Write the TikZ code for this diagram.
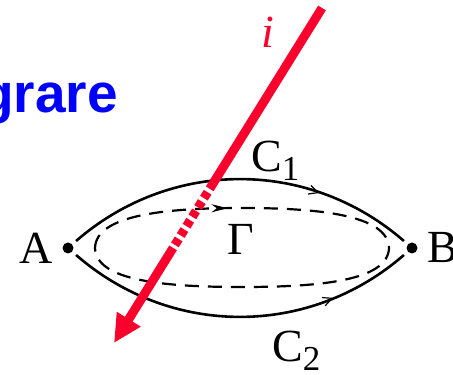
\documentclass[tikz,border=0pt]{standalone}
\usepackage{fontspec}
\setmainfont{Liberation Serif}
\newfontfamily\headfont{Liberation Sans}
\usetikzlibrary{positioning,arrows.meta,calc,decorations.markings}
\definecolor{Wire}{RGB}{250,0,45}
\definecolor{Title}{RGB}{0,0,255}
\newcommand{\lblsize}{\fontsize{46}{46}\selectfont}
\newcommand{\lowidx}[1]{\raisebox{-8.5pt}{\fontsize{35}{35}\selectfont #1}}

\begin{document}
\begin{tikzpicture}[x=1pt,y=1pt,
  dot/.style={circle,fill,inner sep=0pt,minimum size=11pt},
  letter/.style={inner sep=0pt,font=\lblsize},
  curve/.style={line width=2.6pt,shorten <=5pt,shorten >=5pt},
  loop/.style={line width=2.2pt,dash pattern=on 14pt off 9pt},
  wire/.style={Wire,line width=9pt},
  barb/.style={postaction={decorate},decoration={markings,mark=at position #1 with {\arrow{Straight Barb[length=9pt,width=9pt,line width=1.2pt]}}}}]
\useasboundingbox (0,0) rectangle (453,375);
% title, cut at the left edge
\node[anchor=base east,inner sep=0pt,text=Title,font=\fontsize{55}{55}\selectfont\headfont\bfseries] (title) at (118,262) {grare};
% end points
\node[dot] (A) at (68,127) {};
\node[dot] (B) at (412,127) {};
\node[letter,left=9pt of A] (labA) {A};
\node[letter,right=10pt of B] (labB) {B};
% the two paths and the closed loop
\draw[curve,barb=0.72] (A) to[bend left=41] (B);
\draw[curve,barb=0.76] (A) to[bend right=41] (B);
\draw[loop,postaction={decorate},decoration={markings,mark=at position 0.228 with {\arrow{Stealth[length=16pt,width=8pt]}}}]
  (95,127) .. controls (96,160) and (165,167) .. (242,167)
  .. controls (319,167) and (388,160) .. (389,127)
  .. controls (388,94) and (319,88) .. (242,88)
  .. controls (165,88) and (96,94) .. (95,127);
% current wire
\coordinate (iTop) at (322,367);
\coordinate (iTip) at (114,32);
\coordinate (iIn) at ($(iTop)!0.522!(iTip)$);
\coordinate (iOut) at ($(iTop)!0.716!(iTip)$);
\draw[wire] (iTop) -- (iIn);
\draw[wire,dash pattern=on 7pt off 4pt] (iIn) -- (iOut);
\draw[wire,-{Triangle[length=28pt,width=26pt]}] (iOut) -- (iTip);
% labels
\node[letter,anchor=base] (labG) at (241,120) {Γ};
\node[letter,anchor=base west] (labC1) at (251,203) {C\lowidx{1}};
\node[letter,anchor=base west] (labC2) at (272,13) {C\lowidx{2}};
\node[letter,text=Wire,anchor=base] (labI) at (268,327) {\itshape i};
\end{tikzpicture}
\end{document}
